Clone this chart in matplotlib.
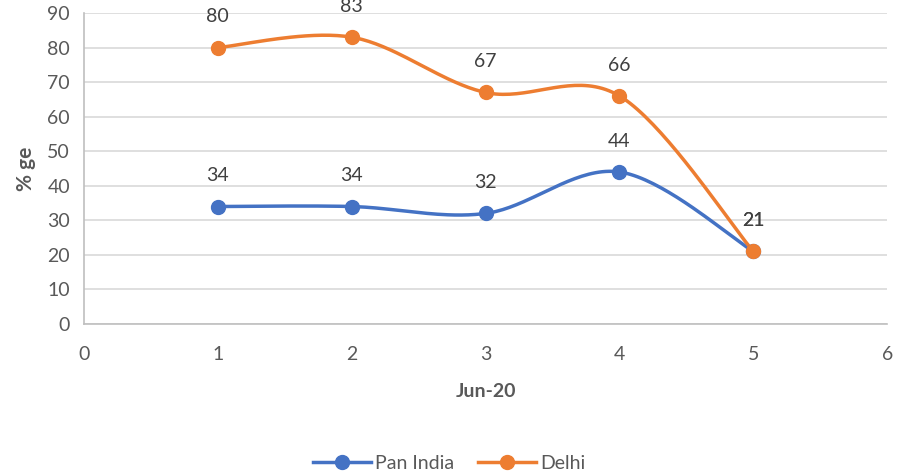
import numpy as np
import matplotlib
matplotlib.use("Agg")
import matplotlib.pyplot as plt
from matplotlib.lines import Line2D

plt.rcParams['font.family'] = ['Lato', 'DejaVu Sans']

x_vals = [1, 2, 3, 4, 5]
pan_india = [34, 34, 32, 44, 21]
delhi = [80, 83, 67, 66, 21]
series_names = ["Pan India", "Delhi"]
colors = ["#4472C4", "#ED7D31"]
x_label = "Jun-20"
y_label = "% ge"


def smooth(xs, ys, n=40, tension=1/6):
    xs = np.asarray(xs, float); ys = np.asarray(ys, float)
    px = np.concatenate([[xs[0]], xs, [xs[-1]]])
    py = np.concatenate([[ys[0]], ys, [ys[-1]]])
    outx, outy = [], []
    t = np.linspace(0, 1, n)
    for i in range(1, len(px) - 2):
        p0 = np.array([px[i], py[i]]); p3 = np.array([px[i + 1], py[i + 1]])
        p1 = p0 + (np.array([px[i + 1], py[i + 1]]) - np.array([px[i - 1], py[i - 1]])) * tension
        p2 = p3 - (np.array([px[i + 2], py[i + 2]]) - np.array([px[i], py[i]])) * tension
        b = ((1 - t) ** 3)[:, None] * p0 + (3 * (1 - t) ** 2 * t)[:, None] * p1 \
            + (3 * (1 - t) * t ** 2)[:, None] * p2 + (t ** 3)[:, None] * p3
        outx.extend(b[:, 0]); outy.extend(b[:, 1])
    return np.array(outx), np.array(outy)


fig = plt.figure(figsize=(8.98, 4.76), dpi=100)
ax = fig.add_axes([0.0935, 0.3193, 0.8945, 0.6534])

for ys, c in zip([pan_india, delhi], colors):
    sx, sy = smooth(x_vals, ys)
    ax.plot(sx, sy, color=c, lw=2.5, zorder=3, solid_capstyle='round')
    ax.plot(x_vals, ys, 'o', color=c, ms=10, zorder=4)
    for xv, yv in zip(x_vals, ys):
        ax.annotate(str(yv), (xv, yv), xytext=(0, 16), textcoords='offset points',
                    ha='center', va='bottom', fontsize=14, color='#404040',
                    annotation_clip=False)

ax.set_xlim(0, 6)
ax.set_ylim(0, 90)
ax.set_xticks(range(0, 7))
ax.set_yticks(range(0, 91, 10))
ax.grid(axis='y', color='#D9D9D9', lw=1.2)
ax.set_axisbelow(True)
for s in ['top', 'right']:
    ax.spines[s].set_visible(False)
for s in ['left', 'bottom']:
    ax.spines[s].set_color('#BFBFBF')
    ax.spines[s].set_linewidth(1.2)
ax.tick_params(length=0, labelsize=14, colors='#595959', pad=10)
ax.tick_params(axis='x', pad=16)
ax.set_xlabel(x_label, fontsize=14, fontweight='bold', color='#595959', labelpad=14)
ax.set_ylabel(y_label, fontsize=15, fontweight='bold', color='#595959', labelpad=8)

handles = [Line2D([0], [0], color=c, lw=2.5, marker='o', ms=10) for c in colors]
fig.legend(handles, series_names, loc='center', bbox_to_anchor=(0.5, 0.027), ncol=2,
           frameon=False, fontsize=14, handlelength=3, columnspacing=1.2, handletextpad=0.2,
           labelcolor='#595959')

fig.savefig("out.png", dpi=100)
